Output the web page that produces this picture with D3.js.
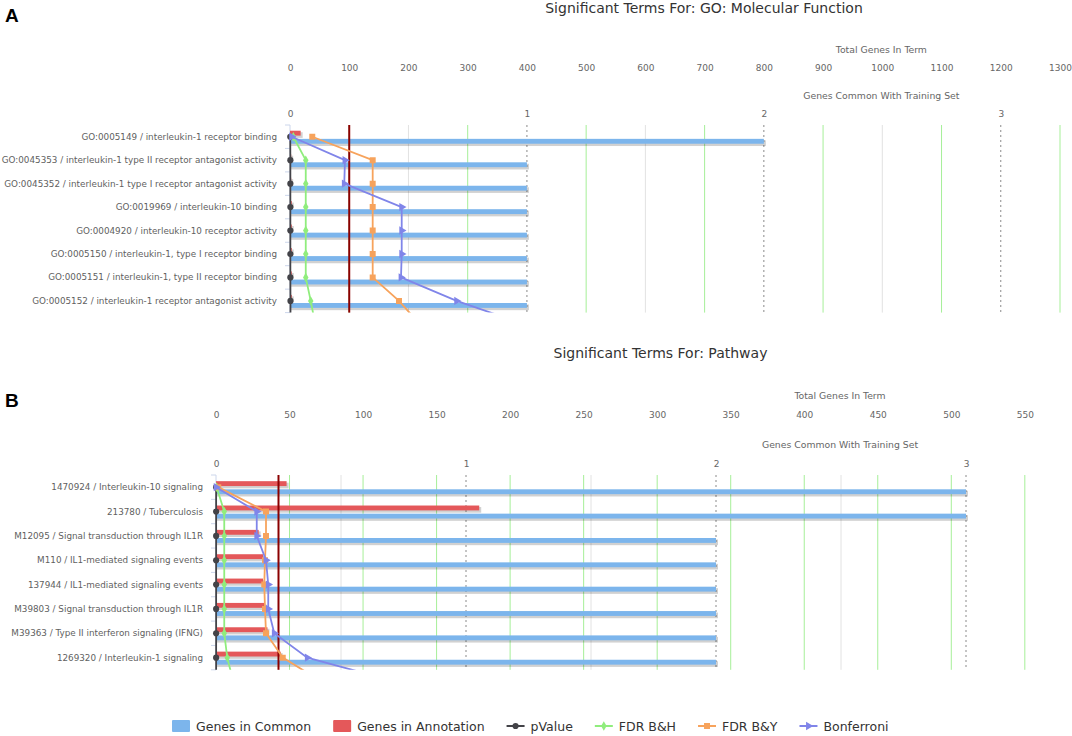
<!DOCTYPE html>
<html>
<head>
<meta charset="utf-8">
<script src="https://cdn.jsdelivr.net/npm/d3@7"></script>
<style>
  body { margin: 0; background: #fff; }
  svg { display: block; font-family: "DejaVu Sans", sans-serif; }
  .panel-letter { font-family: "Liberation Sans", Arial, sans-serif; font-weight: bold; font-size: 19px; fill: #000; }
  .chart-title { font-size: 14px; fill: #333; }
  .axis-title { font-size: 9.3px; fill: #666; }
  .tick-label text { font-size: 9px; fill: #666; }
  .row-label { font-size: 8.8px; fill: #5f5f5f; }
  .legend-text { font-size: 12.5px; fill: #333; }
</style>
</head>
<body>
<svg width="1072" height="736"></svg>
<script>
'use strict';

// A: GO Molecular Function
var mfTerms = [
    'GO:0005149 / interleukin-1 receptor binding',
    'GO:0045353 / interleukin-1 type II receptor antagonist activity',
    'GO:0045352 / interleukin-1 type I receptor antagonist activity',
    'GO:0019969 / interleukin-10 binding',
    'GO:0004920 / interleukin-10 receptor activity',
    'GO:0005150 / interleukin-1, type I receptor binding',
    'GO:0005151 / interleukin-1, type II receptor binding',
    'GO:0005152 / interleukin-1 receptor antagonist activity'
];
var mfCommon = [2, 1, 1, 1, 1, 1, 1, 1];
var mfAnnotation = [18, 2, 2, 3, 3, 3, 3, 3];
// 9 values: the ninth row sits just below the visible plot (clipped)
var mfPValue = [0.0002, 0.0003, 0.0003, 0.0003, 0.0003, 0.0003, 0.0003, 0.0004, 0.0004];
var mfFdrBH = [0.0028, 0.0133, 0.0133, 0.0133, 0.0133, 0.0133, 0.0133, 0.0175, 0.0213];
var mfFdrBY = [0.0188, 0.0698, 0.0698, 0.0698, 0.0698, 0.0698, 0.0698, 0.092, 0.1097];
var mfBonferroni = [0.0014, 0.0464, 0.0458, 0.0943, 0.0943, 0.0943, 0.0937, 0.1407, 0.198];
var mfTotalTicks = [0, 100, 200, 300, 400, 500, 600, 700, 800, 900, 1000, 1100, 1200, 1300];
var mfTotalMax = 1300;

// B: Pathway
var pwTerms = [
    '1470924 / Interleukin-10 signaling',
    '213780 / Tuberculosis',
    'M12095 / Signal transduction through IL1R',
    'M110 / IL1-mediated signaling events',
    '137944 / IL1-mediated signaling events',
    'M39803 / Signal transduction through IL1R',
    'M39363 / Type II interferon signaling (IFNG)',
    '1269320 / Interleukin-1 signaling'
];
var pwCommon = [3, 3, 2, 2, 2, 2, 2, 2];
var pwAnnotation = [48, 179, 29, 32, 32, 33, 35, 44];
var pwPValue = [0.0001, 0.0001, 0.0001, 0.0001, 0.0001, 0.0001, 0.0001, 0.0001, 0.0001];
var pwFdrBH = [0.0005, 0.0066, 0.0066, 0.0066, 0.0066, 0.0066, 0.0066, 0.009, 0.0139];
var pwFdrBY = [0.0018, 0.04, 0.04, 0.0392, 0.0386, 0.0392, 0.04, 0.0534, 0.085];
var pwBonferroni = [0.0001, 0.0326, 0.0326, 0.04, 0.0418, 0.0418, 0.0466, 0.073, 0.1448];
var pwTotalTicks = [0, 50, 100, 150, 200, 250, 300, 350, 400, 450, 500, 550];
var pwTotalMax = 552.5;

// shared axes
var commonTicks = [0, 1, 2, 3];
var commonHalfTicks = [0.5, 1.5, 2.5];
var commonMax = 3.25;
var sigMax = 0.65;
var sigThreshold = 0.05;

var colors = {
    common: '#7cb5ec',
    annotation: '#e4585a',
    pValue: '#434348',
    fdrBH: '#90ed7d',
    fdrBY: '#f7a35c',
    bonferroni: '#8085e9'
};

var lineSeries = [
    { key: 'pValue', name: 'pValue', symbol: d3.symbolCircle, size: 30, rotate: 0 },
    { key: 'fdrBH', name: 'FDR B&H', symbol: d3.symbolDiamond, size: 26, rotate: 0 },
    { key: 'fdrBY', name: 'FDR B&Y', symbol: d3.symbolSquare, size: 36, rotate: 0 },
    { key: 'bonferroni', name: 'Bonferroni', symbol: d3.symbolTriangle, size: 30, rotate: 90 }
];

var svg = d3.select('svg');

function drawPanel(p) {
    var g = svg.append('g').attr('class', 'panel-' + p.id);

    var common = d3.scaleLinear().domain([0, commonMax]).range([p.x0, p.x1]);
    var total = d3.scaleLinear().domain([0, p.totalMax]).range([p.x0, p.x1]);
    var sig = d3.scaleLinear().domain([0, sigMax]).range([p.x0, p.x1]);
    var row = d3.scaleLinear().domain([0, p.terms.length]).range([p.top, p.bottom]);
    var sub = d3.scaleBand().domain(['annotation', 'common']).range([-6, 7]).paddingInner(0.4);

    // clip for lines / markers
    svg.append('clipPath').attr('id', 'clip-' + p.id)
        .append('rect')
        .attr('x', p.x0 - 10).attr('y', p.top)
        .attr('width', p.x1 - p.x0 + 20).attr('height', p.bottom - p.top);

    // 字母 + 标题
    g.append('text').attr('class', 'panel-letter').text(p.id).attr('x', 5).attr('y', p.letterY);
    g.append('text').attr('class', 'chart-title').text(p.title)
        .attr('x', p.titleX).attr('y', p.titleY)
        .attr('text-anchor', 'middle').attr('dominant-baseline', 'central');

    var axisTitleX = p.x0 + 0.768 * (p.x1 - p.x0);
    g.append('text').attr('class', 'axis-title').text('Total Genes In Term')
        .attr('x', axisTitleX).attr('y', p.totalTitleY)
        .attr('text-anchor', 'middle').attr('dominant-baseline', 'central');
    g.append('text').attr('class', 'axis-title').text('Genes Common With Training Set')
        .attr('x', axisTitleX).attr('y', p.commonTitleY)
        .attr('text-anchor', 'middle').attr('dominant-baseline', 'central');

    // tick labels (two top axes)
    var totalAxis = g.append('g').attr('class', 'tick-label')
        .attr('transform', 'translate(0,' + p.totalTickY + ')')
        .call(d3.axisTop(total).tickValues(p.totalTicks).tickSize(0).tickFormat(d3.format('d')));
    var commonAxis = g.append('g').attr('class', 'tick-label')
        .attr('transform', 'translate(0,' + p.commonTickY + ')')
        .call(d3.axisTop(common).tickValues(commonTicks).tickSize(0).tickFormat(d3.format('d')));
    [totalAxis, commonAxis].forEach(function (a) {
        a.select('.domain').remove();
        a.selectAll('text').attr('y', 0).attr('dy', null).attr('dominant-baseline', 'central');
        a.attr('font-family', null).attr('font-size', null);
    });

    // 纵向网格线: green for total-genes ticks, hidden where a gene-common line sits
    var commonXs = commonTicks.concat(commonHalfTicks).map(common);
    var greenTicks = p.totalTicks.filter(function (d) {
        return d > 0 && !commonXs.some(function (x) { return Math.abs(x - total(d)) < 1; });
    });
    g.append('g').selectAll('line')
        .data(greenTicks)
        .enter().append('line')
        .attr('x1', function (d) { return total(d); }).attr('x2', function (d) { return total(d); })
        .attr('y1', p.top).attr('y2', p.bottom)
        .attr('stroke', '#a6ef98').attr('stroke-width', 1);

    g.append('g').selectAll('line')
        .data(commonHalfTicks)
        .enter().append('line')
        .attr('x1', function (d) { return common(d); }).attr('x2', function (d) { return common(d); })
        .attr('y1', p.top).attr('y2', p.bottom)
        .attr('stroke', '#e2e2e2').attr('stroke-width', 1);

    g.append('g').selectAll('line')
        .data(commonTicks.slice(1))
        .enter().append('line')
        .attr('x1', function (d) { return common(d); }).attr('x2', function (d) { return common(d); })
        .attr('y1', p.top).attr('y2', p.bottom)
        .attr('stroke', '#8a8a8a').attr('stroke-width', 1).attr('stroke-dasharray', '2,3');

    // left category axis
    g.append('line')
        .attr('x1', p.x0).attr('x2', p.x0).attr('y1', p.top).attr('y2', p.bottom)
        .attr('stroke', '#ccd6eb');
    g.append('g').selectAll('line')
        .data(d3.range(0, p.terms.length + 1))
        .enter().append('line')
        .attr('x1', p.x0 - 5).attr('x2', p.x0)
        .attr('y1', function (d) { return row(d); }).attr('y2', function (d) { return row(d); })
        .attr('stroke', '#ccd6eb');

    g.append('g').selectAll('text')
        .data(p.terms)
        .enter().append('text')
        .attr('class', 'row-label')
        .text(function (d) { return d; })
        .attr('x', p.x0 - 13)
        .attr('y', function (d, i) { return row(i + 0.5); })
        .attr('text-anchor', 'end')
        .attr('dominant-baseline', 'central');

    // bars
    var bars = [
        { key: 'annotation', values: p.annotation, scale: total },
        { key: 'common', values: p.common, scale: common }
    ];
    bars.forEach(function (b) {
        var bg = g.append('g');
        bg.selectAll('rect.shadow')
            .data(b.values)
            .enter().append('rect')
            .attr('class', 'shadow')
            .attr('x', p.x0 + 1)
            .attr('y', function (d, i) { return row(i + 0.5) + sub(b.key) + 1.5; })
            .attr('width', function (d) { return b.scale(d) - p.x0 + 1; })
            .attr('height', sub.bandwidth() + 0.8)
            .attr('fill', '#000').attr('fill-opacity', 0.18);
        bg.selectAll('rect.bar')
            .data(b.values)
            .enter().append('rect')
            .attr('class', 'bar')
            .attr('x', p.x0)
            .attr('y', function (d, i) { return row(i + 0.5) + sub(b.key); })
            .attr('width', function (d) { return b.scale(d) - p.x0; })
            .attr('height', sub.bandwidth())
            .attr('fill', colors[b.key]);
    });

    // threshold line
    g.append('line')
        .attr('x1', sig(sigThreshold)).attr('x2', sig(sigThreshold))
        .attr('y1', p.top).attr('y2', p.bottom)
        .attr('stroke', '#8b0000').attr('stroke-width', 2);

    // 折线
    var lg = g.append('g').attr('clip-path', 'url(#clip-' + p.id + ')');
    var line = d3.line()
        .x(function (d) { return sig(d); })
        .y(function (d, i) { return row(i + 0.5); });
    lineSeries.forEach(function (s) {
        var vals = p[s.key];
        lg.append('path')
            .datum(vals)
            .attr('d', line)
            .attr('fill', 'none')
            .attr('stroke', colors[s.key])
            .attr('stroke-width', 1.8);
        lg.selectAll('path.m-' + s.key)
            .data(vals)
            .enter().append('path')
            .attr('class', 'm-' + s.key)
            .attr('d', d3.symbol().type(s.symbol).size(s.size))
            .attr('transform', function (d, i) {
                return 'translate(' + sig(d) + ',' + row(i + 0.5) + ') rotate(' + s.rotate + ')';
            })
            .attr('fill', colors[s.key]);
    });
}

drawPanel({
    id: 'A', title: 'Significant Terms For: GO: Molecular Function',
    terms: mfTerms, common: mfCommon, annotation: mfAnnotation,
    pValue: mfPValue, fdrBH: mfFdrBH, fdrBY: mfFdrBY, bonferroni: mfBonferroni,
    totalTicks: mfTotalTicks, totalMax: mfTotalMax,
    x0: 290, x1: 1060, top: 125, bottom: 312.6,
    letterY: 22.4, titleX: 704, titleY: 8,
    totalTitleY: 49, totalTickY: 67.5, commonTitleY: 95, commonTickY: 113.5
});

drawPanel({
    id: 'B', title: 'Significant Terms For: Pathway',
    terms: pwTerms, common: pwCommon, annotation: pwAnnotation,
    pValue: pwPValue, fdrBH: pwFdrBH, fdrBY: pwFdrBY, bonferroni: pwBonferroni,
    totalTicks: pwTotalTicks, totalMax: pwTotalMax,
    x0: 216, x1: 1028.5, top: 475, bottom: 669.8,
    letterY: 406.5, titleX: 660.5, titleY: 352.5,
    totalTitleY: 395.5, totalTickY: 415, commonTitleY: 444, commonTickY: 463.5
});

// legend
var legendItems = [
    { key: 'common', name: 'Genes in Common', type: 'bar' },
    { key: 'annotation', name: 'Genes in Annotation', type: 'bar' }
].concat(lineSeries.map(function (s) { return { key: s.key, name: s.name, type: 'line', s: s }; }));

var legend = svg.append('g').attr('class', 'legend');
var lx = 172, ly = 726;
legendItems.forEach(function (item) {
    var it = legend.append('g').attr('transform', 'translate(' + lx + ',' + ly + ')');
    if (item.type === 'bar') {
        it.append('rect').attr('x', 0).attr('y', -6).attr('width', 18).attr('height', 12)
            .attr('rx', 1).attr('fill', colors[item.key]);
    } else {
        it.append('line').attr('x1', 0).attr('x2', 18).attr('y1', 0).attr('y2', 0)
            .attr('stroke', colors[item.key]).attr('stroke-width', 2);
        it.append('path')
            .attr('d', d3.symbol().type(item.s.symbol).size(item.s.size))
            .attr('transform', 'translate(9,0) rotate(' + item.s.rotate + ')')
            .attr('fill', colors[item.key]);
    }
    var t = it.append('text').attr('class', 'legend-text').text(item.name)
        .attr('x', 24).attr('y', 0).attr('dominant-baseline', 'central');
    lx += 24 + t.node().getComputedTextLength() + 22;
});
</script>
</body>
</html>
